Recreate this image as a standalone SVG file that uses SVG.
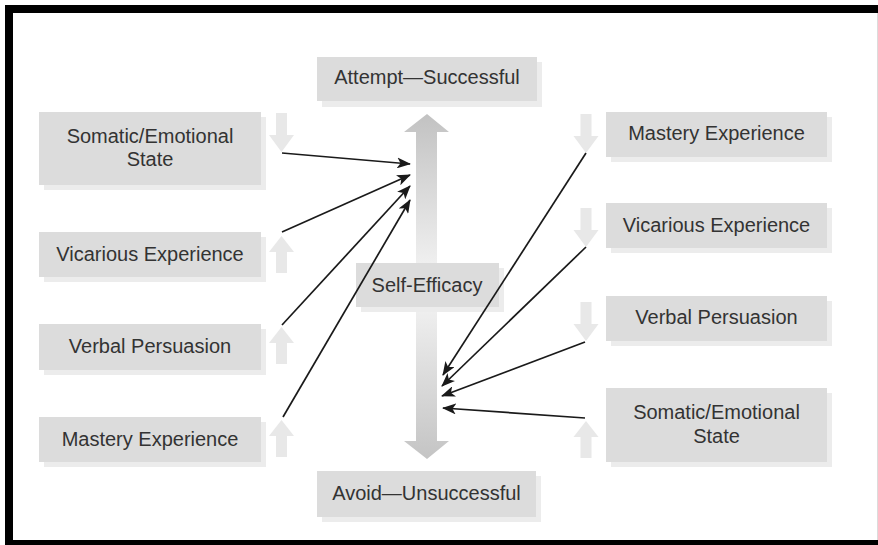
<svg xmlns="http://www.w3.org/2000/svg" width="878" height="545" viewBox="0 0 878 545">
  <style>
    .box { fill: #dcdcdc; }
    .shadow { fill: #ececec; }
    .label { font-family: "Liberation Sans", Arial, sans-serif; font-size: 20px; fill: #333333; text-anchor: middle; }
    .tick { fill: #e8e8e8; }
    .conn { stroke: #1a1a1a; stroke-width: 1.7; fill: none; marker-end: url(#head); }
  </style>
  <defs>
    <marker id="head" viewBox="0 0 14 11" refX="13" refY="5.5" markerWidth="14" markerHeight="11" markerUnits="userSpaceOnUse" orient="auto">
      <path d="M0,0 L14,5.5 L0,11 L3.5,5.5 Z" fill="#1a1a1a"/>
    </marker>
    <linearGradient id="upGrad" x1="0" y1="114" x2="0" y2="266" gradientUnits="userSpaceOnUse">
      <stop offset="0" stop-color="#c2c2c2"/>
      <stop offset="1" stop-color="#f0f0f0"/>
    </linearGradient>
    <linearGradient id="downGrad" x1="0" y1="306" x2="0" y2="459" gradientUnits="userSpaceOnUse">
      <stop offset="0" stop-color="#f0f0f0"/>
      <stop offset="1" stop-color="#c4c4c4"/>
    </linearGradient>
    <path id="tickDown" d="M-5.5,0 H5.5 V22 H12.5 L0,39 L-12.5,22 H-5.5 Z"/>
    <path id="tickUp" d="M-5.5,0 H5.5 V-21 H12.5 L0,-37 L-12.5,-21 H-5.5 Z"/>
  </defs>

  <!-- frame -->
  <rect x="5" y="5" width="873" height="540" fill="#000000"/>
  <rect x="13" y="13" width="865" height="527" fill="#ffffff"/>
  <line x1="877.5" y1="13" x2="877.5" y2="540" stroke="#dcdcdc" stroke-width="1"/>

  <!-- central double arrow -->
  <g id="central-arrow">
    <path d="M427,114 L449,132 L437,132 L437,266 L416,266 L416,132 L404,132 Z" fill="url(#upGrad)"/>
    <path d="M416,306 L437,306 L437,441 L449,441 L427,459 L404,441 L416,441 Z" fill="url(#downGrad)"/>
  </g>

  <g id="attempt">
    <rect class="shadow" x="322" y="62" width="220" height="45"/>
    <rect class="box" x="317" y="57" width="220" height="44"/>
    <text class="label" x="427" y="84">Attempt—Successful</text>
  </g>

  <g id="self-efficacy">
    <rect class="shadow" x="361" y="268" width="143" height="44"/>
    <rect class="box" x="356" y="263" width="143" height="44"/>
    <text class="label" x="427" y="292">Self-Efficacy</text>
  </g>

  <g id="avoid">
    <rect class="shadow" x="322" y="476" width="219" height="46"/>
    <rect class="box" x="317" y="471" width="219" height="46"/>
    <text class="label" x="426.5" y="500">Avoid—Unsuccessful</text>
  </g>

  <!-- left column -->
  <g id="left-somatic">
    <rect class="shadow" x="44" y="117" width="222" height="73"/>
    <rect class="box" x="39" y="112" width="222" height="73"/>
    <text class="label" x="150" y="143">Somatic/Emotional</text>
    <text class="label" x="150" y="166">State</text>
    <use href="#tickDown" class="tick" x="281.5" y="113"/>
  </g>

  <g id="left-vicarious">
    <rect class="shadow" x="44" y="237" width="222" height="45"/>
    <rect class="box" x="39" y="232" width="222" height="45"/>
    <text class="label" x="150" y="261">Vicarious Experience</text>
    <use href="#tickUp" class="tick" x="281.5" y="273"/>
  </g>

  <g id="left-verbal">
    <rect class="shadow" x="44" y="329" width="222" height="46"/>
    <rect class="box" x="39" y="324" width="222" height="46"/>
    <text class="label" x="150" y="353">Verbal Persuasion</text>
    <use href="#tickUp" class="tick" x="281.5" y="364"/>
  </g>

  <g id="left-mastery">
    <rect class="shadow" x="44" y="422" width="222" height="45"/>
    <rect class="box" x="39" y="417" width="222" height="45"/>
    <text class="label" x="150" y="446">Mastery Experience</text>
    <use href="#tickUp" class="tick" x="281.5" y="457"/>
  </g>

  <!-- right column -->
  <g id="right-mastery">
    <rect class="shadow" x="611" y="117" width="221" height="45"/>
    <rect class="box" x="606" y="112" width="221" height="45"/>
    <text class="label" x="716.5" y="140">Mastery Experience</text>
    <use href="#tickDown" class="tick" x="586" y="114"/>
  </g>

  <g id="right-vicarious">
    <rect class="shadow" x="611" y="208" width="221" height="45"/>
    <rect class="box" x="606" y="203" width="221" height="45"/>
    <text class="label" x="716.5" y="232">Vicarious Experience</text>
    <use href="#tickDown" class="tick" x="586" y="208"/>
  </g>

  <g id="right-verbal">
    <rect class="shadow" x="611" y="301" width="221" height="45"/>
    <rect class="box" x="606" y="296" width="221" height="45"/>
    <text class="label" x="716.5" y="324">Verbal Persuasion</text>
    <use href="#tickDown" class="tick" x="586" y="302"/>
  </g>

  <g id="right-somatic">
    <rect class="shadow" x="611" y="393" width="221" height="74"/>
    <rect class="box" x="606" y="388" width="221" height="74"/>
    <text class="label" x="716.5" y="419">Somatic/Emotional</text>
    <text class="label" x="716.5" y="443">State</text>
    <use href="#tickUp" class="tick" x="586" y="458"/>
  </g>

  <!-- connectors -->
  <g id="connectors">
    <line class="conn" x1="282" y1="153" x2="410" y2="164"/>
    <line class="conn" x1="282" y1="232" x2="410" y2="175"/>
    <line class="conn" x1="282" y1="325" x2="410" y2="186"/>
    <line class="conn" x1="283" y1="417" x2="410" y2="200"/>
    <line class="conn" x1="586" y1="153" x2="443" y2="375"/>
    <line class="conn" x1="586" y1="247" x2="442" y2="386"/>
    <line class="conn" x1="585" y1="342" x2="442" y2="396"/>
    <line class="conn" x1="585" y1="418" x2="443" y2="408"/>
  </g>
</svg>
